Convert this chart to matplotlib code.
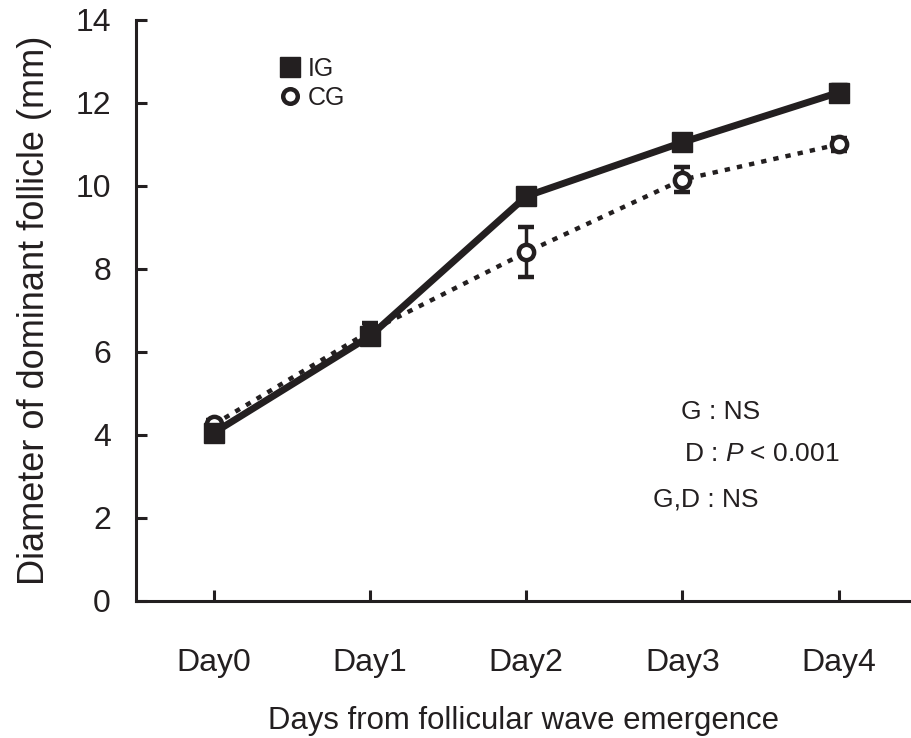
import matplotlib
matplotlib.use("Agg")
import matplotlib.pyplot as plt
from matplotlib.lines import Line2D

plt.rcParams['font.family'] = ['Liberation Sans', 'DejaVu Sans']
plt.rcParams['mathtext.fontset'] = 'custom'
plt.rcParams['mathtext.it'] = 'Liberation Sans:italic'
plt.rcParams['mathtext.rm'] = 'Liberation Sans'

days = ['Day0', 'Day1', 'Day2', 'Day3', 'Day4']
ig_mean = [4.05, 6.38, 9.75, 11.05, 12.25]
ig_err = [0.1, 0.2, 0.15, 0.15, 0.2]
cg_mean = [4.25, 6.5, 8.4, 10.15, 11.0]
cg_err = [0.1, 0.2, 0.6, 0.3, 0.15]

ink = '#231f20'
x = list(range(len(days)))

fig = plt.figure(figsize=(9.12, 7.38), dpi=100)
ax = fig.add_axes([0.149, 0.186, 0.851, 0.787])

ax.errorbar(x, cg_mean, yerr=cg_err, color=ink, linestyle=(0, (1.2, 1.6)), linewidth=3.2,
            marker='o', markersize=11, markerfacecolor='white', markeredgecolor=ink,
            markeredgewidth=3.2, ecolor=ink, elinewidth=2.5, capsize=6, capthick=2.5, zorder=3)
ax.errorbar(x, ig_mean, yerr=ig_err, color=ink, linestyle='-', linewidth=5,
            marker='s', markersize=14.5, markerfacecolor=ink, markeredgecolor=ink,
            ecolor=ink, elinewidth=2.5, capsize=6, capthick=2.5, zorder=4)

ax.set_xlim(-0.5, 4.47)
ax.set_ylim(0, 14)
ax.set_xticks(x)
ax.set_xticklabels(days)
ax.set_yticks(range(0, 15, 2))

for s in ['top', 'right']:
    ax.spines[s].set_visible(False)
for s in ['left', 'bottom']:
    ax.spines[s].set_linewidth(2.2)
    ax.spines[s].set_color(ink)

ax.tick_params(axis='both', direction='in', length=8, width=2.2, color=ink,
               labelsize=23, labelcolor=ink)
ax.tick_params(axis='y', pad=18)
ax.tick_params(axis='x', pad=34)

ax.set_xlabel('Days from follicular wave emergence', fontsize=22.4, color=ink, labelpad=20)
ax.set_ylabel('Diameter of dominant follicle (mm)', fontsize=26, color=ink, labelpad=17)

handles = [
    Line2D([], [], linestyle='none', marker='s', markersize=14, color=ink),
    Line2D([], [], linestyle='none', marker='o', markersize=10.5, markerfacecolor='white',
           markeredgecolor=ink, markeredgewidth=3.2),
]
ax.legend(handles, ['IG', 'CG'], loc='upper left', bbox_to_anchor=(0.157, 0.975),
          frameon=False, fontsize=18, handlelength=0.8, handletextpad=0.3,
          labelspacing=0.2, labelcolor=ink)

ax.text(2.99, 4.54, 'G : NS', fontsize=19, color=ink, va='center', ha='left')
ax.text(3.01, 3.53, 'D : $\\it{P}$ < 0.001', fontsize=19, color=ink, va='center', ha='left')
ax.text(2.81, 2.45, 'G,D : NS', fontsize=19, color=ink, va='center', ha='left')

fig.savefig('out.png', dpi=100)
